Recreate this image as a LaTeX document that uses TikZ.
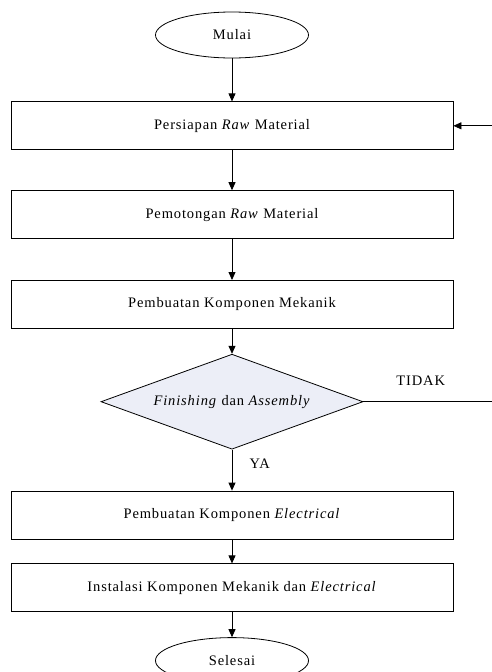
\documentclass[tikz,border=0pt]{standalone}
\usepackage{fontspec}
\setmainfont[LetterSpace=6.0]{Liberation Serif}
\usetikzlibrary{arrows.meta, positioning, shapes.geometric}

\begin{document}
\begin{tikzpicture}[
    node distance={40pt},
    line width=0.8pt,
    font=\fontsize{14.5}{17}\selectfont,
    terminal/.style = {
        draw,
        ellipse,
        minimum width=153pt,
        minimum height=46pt
    },
    process/.style = {
        draw,
        rectangle,
        minimum width=442pt,
        minimum height=48pt
    },
    decision/.style = {
        draw,
        diamond,
        aspect=2.76,
        inner sep=0pt,
        fill={rgb,255:red,236;green,238;blue,247},
        minimum width=262pt,
        minimum height=95pt
    },
    myarrow/.style={
        -{Triangle[width=7pt,length=8pt]}
    }
]
  \useasboundingbox (0,0) rectangle (492pt,-672pt);

  \node[terminal] (mulai) at (232pt,-35pt) {Mulai};
  \node[process] (persiapan) [below=43pt of mulai] {Persiapan \textit{Raw} Material};
  \node[process] (pemotongan) [below=of persiapan] {Pemotongan \textit{Raw} Material};
  \node[process] (mekanik) [below=41pt of pemotongan] {Pembuatan Komponen Mekanik};
  \node[decision] (cek) [below=25pt of mekanik] {\textit{Finishing} dan \textit{Assembly}};
  \node[process] (electrical) [below=41pt of cek] {Pembuatan Komponen \textit{Electrical}};
  \node[process] (instalasi) [below=24pt of electrical] {Instalasi Komponen Mekanik dan \textit{Electrical}};
  \node[terminal] (selesai) [below=25pt of instalasi] {Selesai};

  % sisi kanan (tepi gambar)
  \coordinate (kanan) at (492pt,0);
  \coordinate (tidakend) at (cek.east -| kanan);
  \coordinate (balik) at (persiapan.east -| kanan);

  \draw[myarrow] (mulai) to (persiapan);
  \draw[myarrow] (persiapan) to (pemotongan);
  \draw[myarrow] (pemotongan) to (mekanik);
  \draw[myarrow] (mekanik) to (cek);
  \draw[myarrow] (cek) to node[midway, right=14pt, yshift=6pt] {YA} (electrical);
  \draw[myarrow] (electrical) to (instalasi);
  \draw[myarrow] (instalasi) to (selesai);
  \draw (cek.east) to node[midway, above=12pt, xshift=-7pt] {TIDAK} (tidakend);
  \draw[myarrow] (balik) to (persiapan.east);
\end{tikzpicture}
\end{document}
